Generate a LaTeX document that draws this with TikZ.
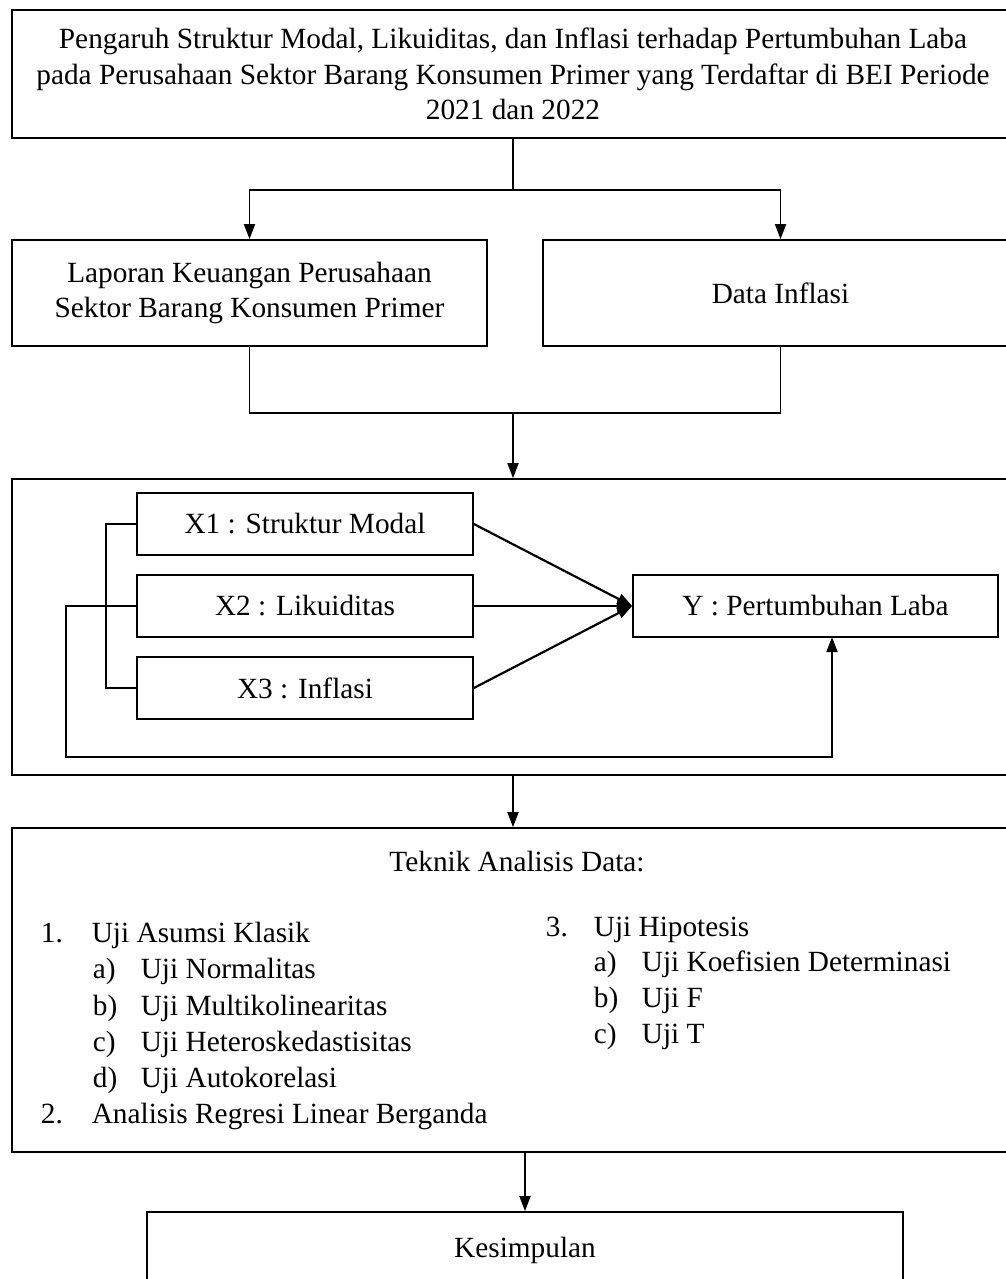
\documentclass[tikz,border=0pt]{standalone}
\usepackage{fontspec}
\setmainfont{Liberation Serif}
\usetikzlibrary{arrows.meta}

\tikzset{
	box/.style={draw, rectangle, inner sep=0pt, align=center},
	item/.style={anchor=west, inner sep=0pt, text height=20pt, text depth=7pt},
	arr/.style={-{Triangle[length=15pt, width=11pt]}}
}

\begin{document}
\begin{tikzpicture}[x=1pt, y=-1pt, line width=1.7pt, font=\fontsize{29.3}{35.5}\selectfont]
	\useasboundingbox (0,0) rectangle (1006,1279);
	\clip (0,0) rectangle (1006,1279);
	% boxes
	\node[box, minimum width=1002pt, minimum height=128pt] (0) at (513, 74) {Pengaruh Struktur Modal, Likuiditas, dan Inflasi terhadap Pertumbuhan Laba\\ pada Perusahaan Sektor Barang Konsumen Primer yang Terdaftar di BEI Periode\\ 2021 dan 2022};
	\node[box, minimum width=475pt, minimum height=106pt] (1) at (249.5, 293) {Laporan Keuangan Perusahaan\\ Sektor Barang Konsumen Primer};
	\node[box, minimum width=475pt, minimum height=106pt] (2) at (780.5, 293) {Data Inflasi};
	\node[box, minimum width=1002pt, minimum height=296pt] (3) at (513, 627) {};
	\node[box, minimum width=336pt, minimum height=62pt] (4) at (305, 524) {X1 : Struktur Modal};
	\node[box, minimum width=336pt, minimum height=62pt] (5) at (305, 606) {X2 : Likuiditas};
	\node[box, minimum width=336pt, minimum height=62pt] (6) at (305, 688) {X3 : Inflasi};
	\node[box, minimum width=365pt, minimum height=62pt] (7) at (815.5, 606) {Y : Pertumbuhan Laba};
	\node[box, minimum width=1002pt, minimum height=324pt] (8) at (513, 990) {};
	\node[box, minimum width=756pt, minimum height=76pt] (9) at (525, 1250) {Kesimpulan};
	% analysis text
	\node (10) at (517, 862) {Teknik Analisis Data:};
	\node[item] (11) at (40, 936) {\makebox[51pt][l]{1.}Uji Asumsi Klasik};
	\node[item] (12) at (92, 972) {\makebox[48pt][l]{a)}Uji Normalitas};
	\node[item] (13) at (92, 1009) {\makebox[48pt][l]{b)}Uji Multikolinearitas};
	\node[item] (14) at (92, 1045) {\makebox[48pt][l]{c)}Uji Heteroskedastisitas};
	\node[item] (15) at (92, 1081) {\makebox[48pt][l]{d)}Uji Autokorelasi};
	\node[item] (16) at (40, 1117) {\makebox[51pt][l]{2.}Analisis Regresi Linear Berganda};
	\node[item] (17) at (545, 930) {\makebox[48pt][l]{3.}Uji Hipotesis};
	\node[item] (18) at (593, 965) {\makebox[48pt][l]{a)}Uji Koefisien Determinasi};
	\node[item] (19) at (593, 1001) {\makebox[48pt][l]{b)}Uji F};
	\node[item] (20) at (593, 1037) {\makebox[48pt][l]{c)}Uji T};
	% junctions
	\coordinate (21) at (513, 190);
	\coordinate (22) at (513, 413);
	\coordinate (23) at (106, 606);
	\coordinate (24) at (66, 757);
	\coordinate (25) at (832, 637);
	% connectors
	\draw (0) to (21);
	\draw[arr] (21) -| (1.north);
	\draw[arr] (21) -| (2.north);
	\draw (1.south) |- (22);
	\draw (2.south) |- (22);
	\draw[arr] (22) to (3.north);
	\draw (4.west) -| (23) |- (6.west);
	\draw[arr] (5.west) -| (24) -| (25);
	\draw[arr, line width=2.2pt] (4.east) to (7.west);
	\draw[arr, line width=2.2pt] (5.east) to (7.west);
	\draw[arr, line width=2.2pt] (6.east) to (7.west);
	\draw[arr] (3.south) to (8.north);
	\draw[arr] (8.south -| 9.north) to (9.north);
\end{tikzpicture}
\end{document}
